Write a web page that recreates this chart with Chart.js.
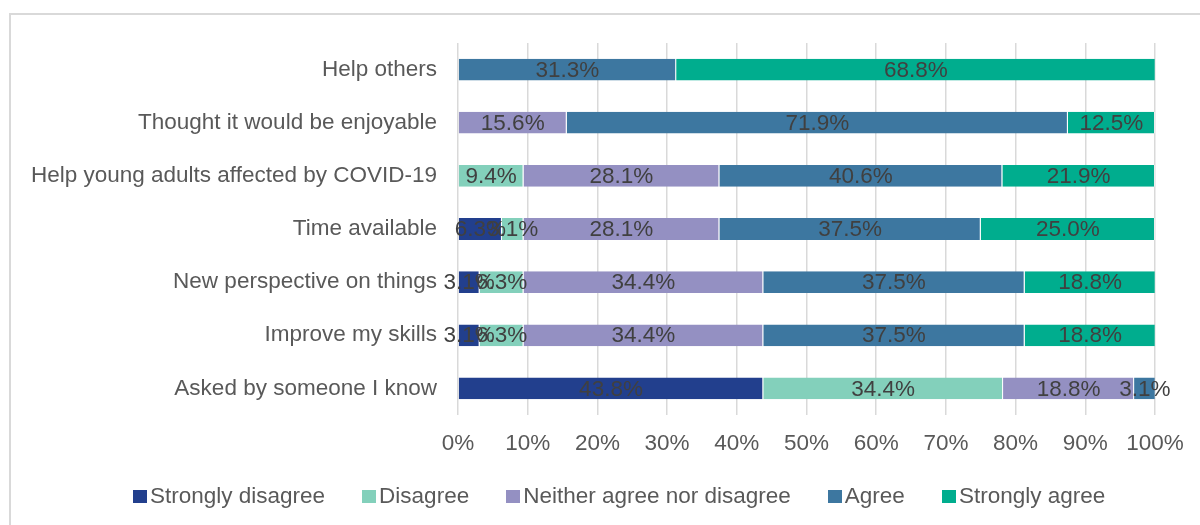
<!DOCTYPE html>
<html>
<head>
<meta charset="utf-8">
<script src="https://cdn.jsdelivr.net/npm/chart.js@4"></script>
<style>
  body { margin: 0; background: #fff; font-family: "Liberation Sans", Arial, sans-serif; }
  #wrap { position: relative; width: 1200px; height: 525px; overflow: hidden; }
  #frame { position: absolute; left: 9px; top: 13px; width: 1300px; height: 600px;
           border-left: 2px solid #d9d9d9; border-top: 2px solid #d9d9d9; }
  #myChart { position: absolute; left: 0; top: 0; }
  #legend { position: absolute; left: 133px; top: 483px; display: flex; gap: 37px;
            font-size: 22.5px; color: #595959; white-space: nowrap; }
  #legend span.item { display: flex; align-items: center; }
  #legend span.box { display: inline-block; width: 14px; height: 13px; margin-right: 3px; }
</style>
</head>
<body>
<div id="wrap">
  <div id="frame"></div>
  <canvas id="myChart" width="1200" height="525"></canvas>
  <div id="legend"></div>
</div>
<script>
//--------------------- Data ---------------------

const reasons = [
  "Help others",
  "Thought it would be enjoyable",
  "Help young adults affected by COVID-19",
  "Time available",
  "New perspective on things",
  "Improve my skills",
  "Asked by someone I know",
];

const seriesNames = ["Strongly disagree", "Disagree", "Neither agree nor disagree", "Agree", "Strongly agree"];
const seriesColors = ["#223f8d", "#83d0bb", "#9490c2", "#3d77a0", "#00ad8e"];

const stronglyDisagree = [0, 0, 0, 6.3, 3.1, 3.1, 43.8];
const disagree = [0, 0, 9.4, 3.1, 6.3, 6.3, 34.4];
const neither = [0, 15.6, 28.1, 28.1, 34.4, 34.4, 18.8];
const agree = [31.3, 71.9, 40.6, 37.5, 37.5, 37.5, 3.1];
const stronglyAgree = [68.8, 12.5, 21.9, 25.0, 18.8, 18.8, 0];

const xTicks = [0, 10, 20, 30, 40, 50, 60, 70, 80, 90, 100];

const FONT = "'Liberation Sans', Arial, sans-serif";
const FONT_SIZE = 22.5;

//--------------------- Chart ---------------------

const seriesValues = [stronglyDisagree, disagree, neither, agree, stronglyAgree];

const datasets = seriesValues.map((values, i) => ({
  label: seriesNames[i],
  data: values,
  backgroundColor: seriesColors[i],
  borderColor: "rgba(255,255,255,0.5)",
  borderWidth: { left: 0, right: 1, top: 0, bottom: 0 },
  borderSkipped: false,
  barPercentage: 0.41,
  categoryPercentage: 1,
}));

// value labels in the middle of each segment, zero segments skipped
const segmentLabels = {
  id: "segmentLabels",
  afterDatasetsDraw(chart) {
    const { ctx } = chart;
    ctx.save();
    ctx.font = FONT_SIZE + "px " + FONT;
    ctx.fillStyle = "#404040";
    ctx.textAlign = "center";
    ctx.textBaseline = "middle";
    chart.data.datasets.forEach((ds, i) => {
      chart.getDatasetMeta(i).data.forEach((bar, j) => {
        const v = ds.data[j];
        if (!v) return;
        const cx = (bar.x + bar.base) / 2;
        ctx.fillText(v.toFixed(1) + "%", cx, bar.y + 1);
      });
    });
    ctx.restore();
  },
};

const ctx = document.getElementById("myChart").getContext("2d");

const myChart = new Chart(ctx, {
  type: "bar",
  data: { labels: reasons, datasets: datasets },
  options: {
    indexAxis: "y",
    responsive: false,
    animation: false,
    layout: { padding: { left: 0, right: 45, top: 43, bottom: 0 } },
    plugins: {
      legend: { display: false },
      tooltip: { enabled: false },
    },
    scales: {
      x: {
        stacked: true,
        min: 0,
        max: 100,
        afterBuildTicks: (axis) => {
          axis.ticks = xTicks.map((v) => ({ value: v }));
        },
        afterFit: (axis) => {
          axis.height = 110;
        },
        grid: { color: "#d9d9d9", lineWidth: 1.5, drawTicks: false },
        border: { display: false },
        ticks: {
          padding: 15,
          color: "#595959",
          font: { family: FONT, size: FONT_SIZE },
          callback: (v) => v + "%",
        },
      },
      y: {
        stacked: true,
        afterFit: (axis) => {
          axis.width = 458;
        },
        grid: { display: false, drawTicks: false },
        border: { display: false },
        ticks: {
          padding: 21,
          color: "#595959",
          font: { family: FONT, size: FONT_SIZE },
        },
      },
    },
  },
  plugins: [segmentLabels],
});

// legend row under the chart
const legendEl = document.getElementById("legend");
seriesNames.forEach((name, i) => {
  const item = document.createElement("span");
  item.className = "item";
  item.innerHTML = `<span class="box" style="background:${seriesColors[i]}"></span>${name}`;
  legendEl.appendChild(item);
});
</script>
</body>
</html>
